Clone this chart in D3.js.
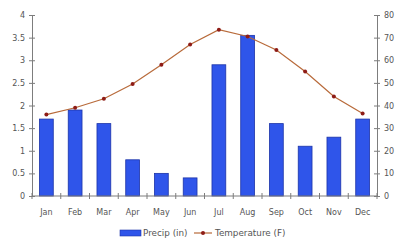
<!DOCTYPE html>
<html>
<head>
<meta charset="utf-8">
<script src="https://cdn.jsdelivr.net/npm/d3@7"></script>
<style>
	body { margin: 0; background: #fff; }
	text { font-family: "DejaVu Sans", sans-serif; }
</style>
</head>
<body>
<svg id="chart" width="396" height="242"></svg>
<script>
// monthly categories
var months = ["Jan", "Feb", "Mar", "Apr", "May", "Jun", "Jul", "Aug", "Sep", "Oct", "Nov", "Dec"]

// precipitation in inches (bars, left axis)
var precip = [1.7, 1.9, 1.6, 0.8, 0.5, 0.4, 2.9, 3.55, 1.6, 1.1, 1.3, 1.7]

// temperature in F (line, right axis)
var temps = [36, 39, 43, 49.5, 58, 67, 73.5, 70.5, 64.5, 55, 44, 36.5]

var leftTicks = [0, 0.5, 1, 1.5, 2, 2.5, 3, 3.5, 4]
var rightTicks = [0, 10, 20, 30, 40, 50, 60, 70, 80]

var axisColor = "#7d7d7d"
var labelColor = "#555"
var barFill = "#2f55ea"
var barEdge = "#1c33a8"
var lineColor = "#b86a3a"
var markColor = "#8e1c16"
var tickFont = "8px"
var legendFont = "8.8px"

var svg = d3.select("#chart")
// plot box (window.top is read-only, so not "top")
var plotLeft = 32, plotRight = 377, plotTop = 15, plotBottom = 196

var x = d3.scaleBand()
	.domain(months)
	.range([plotLeft, plotRight])
	.paddingInner(0.52)
	.paddingOuter(0.26)

var yL = d3.scaleLinear().domain([0, 4]).range([plotBottom, plotTop])
var yR = d3.scaleLinear().domain([0, 80]).range([plotBottom, plotTop])

// bars
svg.selectAll("rect.bar")
	.data(precip)
	.enter()
	.append("rect")
	.attr("class", "bar")
	.attr("x", function(d, i) { return x(months[i]) })
	.attr("y", function(d) { return yL(d) })
	.attr("width", x.bandwidth())
	.attr("height", function(d) { return plotBottom - yL(d) })
	.attr("fill", barFill)
	.attr("stroke", barEdge)
	.attr("stroke-width", 0.8)

function styleAxis(g) {
	g.selectAll("path").attr("stroke", axisColor)
	g.selectAll("line").attr("stroke", axisColor)
	g.selectAll("text").attr("fill", labelColor).style("font-size", tickFont)
}

// left axis, ticks cross the line
var ga = svg.append("g")
	.attr("transform", "translate(" + plotLeft + ",0)")
	.call(d3.axisLeft(yL).tickValues(leftTicks).tickSize(3).tickSizeOuter(0).tickPadding(4)
		.tickFormat(function(d) { return d }))
	.call(styleAxis)
ga.selectAll(".tick line").attr("x2", 3).attr("x1", -3)

// right axis
var gb = svg.append("g")
	.attr("transform", "translate(" + plotRight + ",0)")
	.call(d3.axisRight(yR).tickValues(rightTicks).tickSize(3).tickSizeOuter(0).tickPadding(4))
	.call(styleAxis)
gb.selectAll(".tick line").attr("x1", -3).attr("x2", 3)

// x axis: ticks at category boundaries
var step = x.step()
var boundaries = d3.range(months.length + 1).map(function(i) { return x(months[0]) - step * x.paddingInner() / 2 + i * step })
var gx = svg.append("g")
gx.append("line")
	.attr("x1", plotLeft).attr("x2", plotRight)
	.attr("y1", plotBottom).attr("y2", plotBottom)
	.attr("stroke", axisColor)
gx.selectAll("line.tk")
	.data(boundaries)
	.enter()
	.append("line")
	.attr("class", "tk")
	.attr("x1", function(d) { return d }).attr("x2", function(d) { return d })
	.attr("y1", plotBottom - 3).attr("y2", plotBottom + 3)
	.attr("stroke", axisColor)
gx.selectAll("text")
	.data(months)
	.enter()
	.append("text")
	.attr("x", function(d) { return x(d) + x.bandwidth() / 2 })
	.attr("y", 215)
	.attr("text-anchor", "middle")
	.attr("fill", labelColor)
	.style("font-size", tickFont)
	.text(function(d) { return d })

// temperature line
var line = d3.line()
	.x(function(d, i) { return x(months[i]) + x.bandwidth() / 2 })
	.y(function(d) { return yR(d) })

svg.append("path")
	.datum(temps)
	.attr("d", line)
	.attr("fill", "none")
	.attr("stroke", lineColor)
	.attr("stroke-width", 1.2)

svg.selectAll("circle.mk")
	.data(temps)
	.enter()
	.append("circle")
	.attr("class", "mk")
	.attr("cx", function(d, i) { return x(months[i]) + x.bandwidth() / 2 })
	.attr("cy", function(d) { return yR(d) })
	.attr("r", 2)
	.attr("fill", markColor)

// legend
var lg = svg.append("g").attr("transform", "translate(0,233)")
lg.append("rect")
	.attr("x", 120).attr("y", -3).attr("width", 21).attr("height", 6)
	.attr("fill", barFill).attr("stroke", barEdge).attr("stroke-width", 0.6)
lg.append("text")
	.attr("x", 143).attr("y", 3)
	.attr("fill", labelColor)
	.style("font-size", legendFont)
	.text("Precip (in)")
lg.append("line")
	.attr("x1", 194).attr("x2", 212).attr("y1", 0).attr("y2", 0)
	.attr("stroke", lineColor).attr("stroke-width", 1.2)
lg.append("circle")
	.attr("cx", 203).attr("cy", 0).attr("r", 2).attr("fill", markColor)
lg.append("text")
	.attr("x", 215).attr("y", 3)
	.attr("fill", labelColor)
	.style("font-size", legendFont)
	.text("Temperature (F)")
</script>
</body>
</html>
